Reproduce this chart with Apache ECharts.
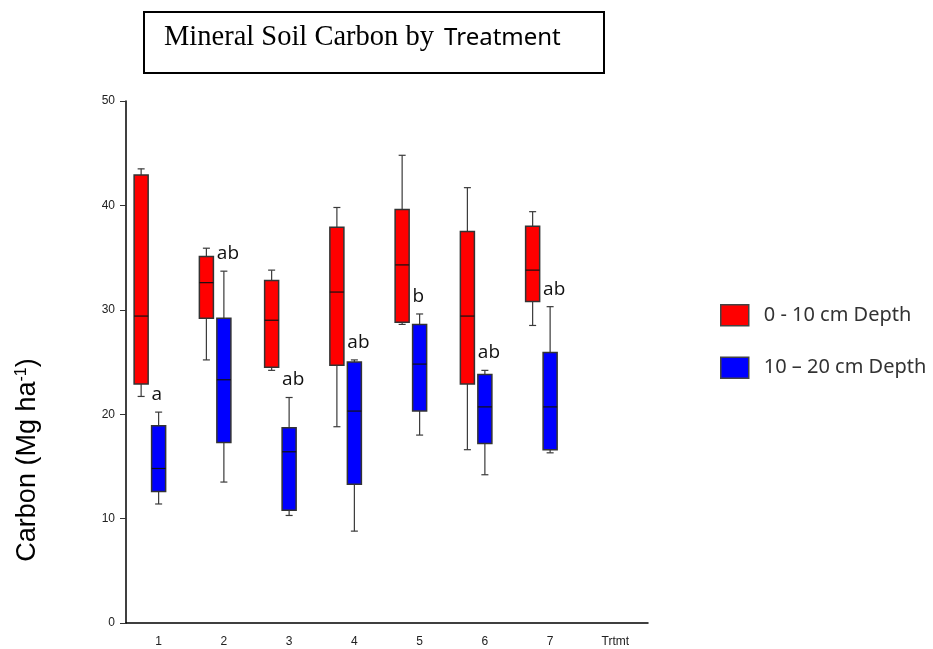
<!DOCTYPE html>
<html>
<head>
<meta charset="utf-8">
<script src="https://cdn.jsdelivr.net/npm/echarts@6/dist/echarts.min.js"></script>
<style>html,body{margin:0;padding:0;background:#fff}#c{width:933px;height:649px}</style>
</head>
<body>
<div id="c"></div>
<script>
// Categories (x-axis tick labels)
const categories = ['1', '2', '3', '4', '5', '6', '7', 'Trtmt'];
// Treatment index (category position) for each box
const treatments = [0, 1, 2, 3, 4, 5, 6];
// 0-10 cm depth: [min, Q1, median, Q3, max]
const shallowStats = [
  [21.7, 22.9, 29.4, 42.9, 43.5],
  [25.2, 29.2, 32.6, 35.1, 35.9],
  [24.2, 24.5, 29.0, 32.8, 33.8],
  [18.8, 24.7, 31.7, 37.9, 39.8],
  [28.6, 28.8, 34.3, 39.6, 44.8],
  [16.6, 22.9, 29.4, 37.5, 41.7],
  [28.5, 30.8, 33.8, 38.0, 39.4]
];
// 10-20 cm depth: [min, Q1, median, Q3, max]
const deepStats = [
  [11.4, 12.6, 14.8, 18.9, 20.2],
  [13.5, 17.3, 23.3, 29.2, 33.7],
  [10.3, 10.8, 16.4, 18.7, 21.6],
  [8.8, 13.3, 20.3, 25.0, 25.2],
  [18.0, 20.3, 24.8, 28.6, 29.6],
  [14.2, 17.2, 20.7, 23.8, 24.2],
  [16.3, 16.6, 20.7, 25.9, 30.3]
];
// Significance letters (drawn above deep boxes)
const letters = ['a', 'ab', 'ab', 'ab', 'b', 'ab', 'ab'];
const seriesNames = ['0 - 10 cm Depth', '10 \u2013 20 cm Depth'];

const shallowData = treatments.map((t, i) => [t].concat(shallowStats[i]));
const deepData = treatments.map((t, i) => [t].concat(deepStats[i]));

function makeRender(offsetFrac, widthFrac, color, withLetters) {
  return function (params, api) {
    const idx = api.value(0);
    const band = api.size([1, 0])[0];
    const cx = api.coord([idx, 0])[0] + offsetFrac * band;
    const w = widthFrac * band;
    const yMin = api.coord([idx, api.value(1)])[1];
    const yQ1 = api.coord([idx, api.value(2)])[1];
    const yMed = api.coord([idx, api.value(3)])[1];
    const yQ3 = api.coord([idx, api.value(4)])[1];
    const yMax = api.coord([idx, api.value(5)])[1];
    const capHalf = w * 0.25;
    const lineStyle = { stroke: '#3a3a3a', lineWidth: 1.2 };
    const children = [
      { type: 'line', shape: { x1: cx, y1: yQ3, x2: cx, y2: yMax }, style: lineStyle },
      { type: 'line', shape: { x1: cx, y1: yQ1, x2: cx, y2: yMin }, style: lineStyle },
      { type: 'line', shape: { x1: cx - capHalf, y1: yMax, x2: cx + capHalf, y2: yMax }, style: lineStyle },
      { type: 'line', shape: { x1: cx - capHalf, y1: yMin, x2: cx + capHalf, y2: yMin }, style: lineStyle },
      { type: 'rect', shape: { x: cx - w / 2, y: yQ3, width: w, height: yQ1 - yQ3 },
        style: { fill: color, stroke: '#333', lineWidth: 1.5 } },
      { type: 'line', shape: { x1: cx - w / 2, y1: yMed, x2: cx + w / 2, y2: yMed },
        style: { stroke: '#111', lineWidth: 1.2 } }
    ];
    if (withLetters) {
      children.push({
        type: 'text',
        style: {
          x: cx - w / 2, y: yMax - 8,
          text: letters[params.dataIndex],
          font: '19px "Open Sans", sans-serif',
          fill: '#111', align: 'left', verticalAlign: 'bottom'
        }
      });
    }
    return { type: 'group', children: children };
  };
}

const chart = echarts.init(document.getElementById('c'));
chart.setOption({
  backgroundColor: '#fff',
  animation: false,
  grid: { left: 126, right: 285, top: 101, bottom: 26, containLabel: false },
  xAxis: {
    type: 'category',
    data: categories,
    boundaryGap: true,
    axisLine: { lineStyle: { color: '#000', width: 1.5 } },
    axisTick: { alignWithLabel: true, length: 6, lineStyle: { color: '#333' } },
    axisLabel: { color: '#222', fontFamily: 'Liberation Sans, Arial, sans-serif', fontSize: 12, margin: 13 },
    splitLine: { show: false }
  },
  yAxis: {
    type: 'value',
    min: 0, max: 50, interval: 10,
    axisLine: { show: true, lineStyle: { color: '#000', width: 1.5 } },
    axisTick: { show: true, length: 6, lineStyle: { color: '#333' } },
    axisLabel: { color: '#222', fontFamily: 'Liberation Sans, Arial, sans-serif', fontSize: 12, margin: 11 },
    splitLine: { show: false }
  },
  legend: {
    orient: 'vertical',
    left: 715, top: 299,
    itemWidth: 28, itemHeight: 21,
    itemGap: 30,
    icon: 'rect',
    data: seriesNames,
    itemStyle: { borderColor: '#444', borderWidth: 1.5 },
    textStyle: { fontFamily: '"Noto Sans", sans-serif', fontSize: 20, color: '#333', padding: [0, 0, 0, 10] }
  },
  graphic: [
    { type: 'rect', shape: { x: 144, y: 12, width: 460, height: 61 },
      style: { fill: '#fff', stroke: '#000', lineWidth: 2 } },
    { type: 'text', x: 164, y: 38,
      style: {
        text: '{s|Mineral Soil Carbon by }{t|Treatment}',
        align: 'left', verticalAlign: 'middle',
        rich: {
          s: { font: '28.5px "Liberation Serif", "Times New Roman", serif', fill: '#000' },
          t: { font: '24px "Noto Sans", sans-serif', fill: '#000', padding: [0, 0, 0, 3] }
        }
      } },
    { type: 'text', x: 28, y: 460, rotation: Math.PI / 2,
      style: {
        text: '{a|Carbon (Mg ha}{s|-1}{a|)}',
        align: 'center', verticalAlign: 'middle',
        rich: {
          a: { font: '27px "Liberation Sans", Arial, sans-serif', fill: '#000' },
          s: { font: '16px "Liberation Sans", Arial, sans-serif', fill: '#000', verticalAlign: 'top', padding: [0, 0, 13, 0] }
        }
      } }
  ],
  series: [
    { name: seriesNames[0], type: 'custom', data: shallowData,
      itemStyle: { color: '#ff0000' },
      encode: { x: 0, y: [1, 2, 3, 4, 5] },
      renderItem: makeRender(-0.268, 0.215, '#ff0000', false) },
    { name: seriesNames[1], type: 'custom', data: deepData,
      itemStyle: { color: '#0000ff' },
      encode: { x: 0, y: [1, 2, 3, 4, 5] },
      renderItem: makeRender(0, 0.215, '#0000ff', true) }
  ]
});
</script>
</body>
</html>
